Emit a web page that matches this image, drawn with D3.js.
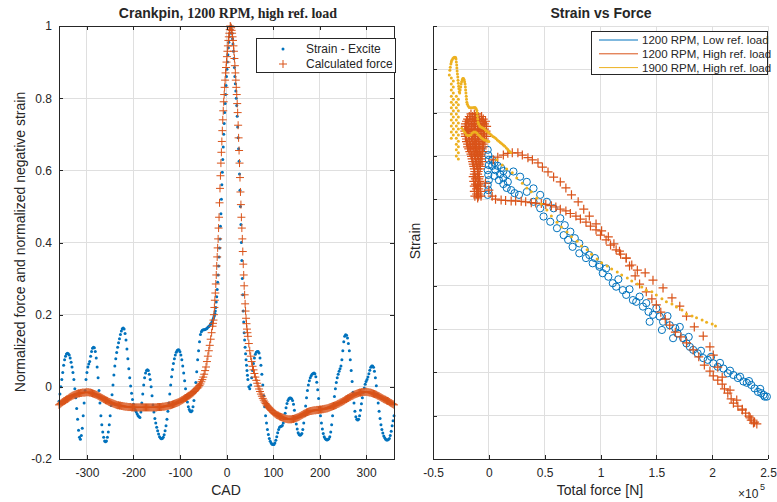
<!DOCTYPE html>
<html>
<head>
<meta charset="utf-8">
<script src="https://cdn.jsdelivr.net/npm/d3@7"></script>
<style>
  body { margin: 0; background: #fff; }
  text { font-family: "Liberation Sans", Arial, sans-serif; fill: #262626; }
</style>
</head>
<body>
<svg id="chart" width="777" height="502"></svg>
<script>
// ---------- left panel: crankpin, 1200 RPM, high ref. load ----------
// crank angle grid: 2 deg steps, 1 deg steps around the firing peak
var cad = [].concat(d3.range(-360, -30, 2), d3.range(-30, 47, 1), d3.range(48, 361, 2))

var strainExcite = [
  -0.04, -0.02, 0.00, 0.02, 0.04, 0.06, 0.075, 0.085, 0.091, 0.093,
  0.092, 0.088, 0.08, 0.068, 0.055, 0.04, 0.02, -0.005, -0.03, -0.06,
  -0.09, -0.12, -0.14, -0.145, -0.135, -0.115, -0.08, -0.045, -0.01, 0.02,
  0.04, 0.055, 0.063, 0.07, 0.085, 0.098, 0.107, 0.11, 0.108, 0.098,
  0.08, 0.055, 0.025, -0.01, -0.045, -0.08, -0.105, -0.125, -0.14, -0.15,
  -0.152, -0.15, -0.14, -0.125, -0.105, -0.08, -0.052, -0.022, 0.005, 0.033,
  0.058, 0.078, 0.095, 0.11, 0.122, 0.133, 0.145, 0.155, 0.161, 0.163,
  0.16, 0.148, 0.13, 0.105, 0.078, 0.05, 0.025, 0.002, -0.018, -0.035,
  -0.048, -0.058, -0.065, -0.07, -0.075, -0.08, -0.083, -0.085, -0.07, -0.045,
  -0.02, 0.005, 0.025, 0.038, 0.045, 0.047, 0.045, 0.035, 0.02, 0.0,
  -0.025, -0.05, -0.07, -0.088, -0.1, -0.112, -0.122, -0.131, -0.138, -0.142,
  -0.144, -0.143, -0.14, -0.133, -0.122, -0.108, -0.09, -0.068, -0.045, -0.02,
  0.005, 0.028, 0.048, 0.065, 0.078, 0.088, 0.096, 0.101, 0.103, 0.102,
  0.097, 0.088, 0.075, 0.058, 0.038, 0.017, -0.005, -0.025, -0.042, -0.055,
  -0.063, -0.068, -0.069, -0.066, -0.055, -0.038, -0.015, 0.012, 0.042, 0.075,
  0.1, 0.125, 0.145, 0.153, 0.157, 0.158, 0.158, 0.159, 0.16, 0.162,
  0.165, 0.167, 0.17, 0.174, 0.178,
  // -30 .. 46, 1 deg
  0.183, 0.186, 0.19, 0.194, 0.198, 0.203, 0.21, 0.22, 0.235, 0.25,
  0.27, 0.29, 0.31, 0.335, 0.36, 0.385, 0.41, 0.445, 0.48, 0.52,
  0.56, 0.595, 0.63, 0.665, 0.7, 0.73, 0.76, 0.785, 0.81, 0.835,
  0.86, 0.88, 0.9, 0.92, 0.94, 0.955, 0.97, 0.98, 0.99, 0.997,
  1.0, 0.99, 0.98, 0.965, 0.95, 0.93, 0.91, 0.885, 0.86, 0.84,
  0.82, 0.8, 0.78, 0.75, 0.72, 0.69, 0.66, 0.625, 0.59, 0.545,
  0.5, 0.45, 0.4, 0.35, 0.3, 0.255, 0.21, 0.18, 0.15, 0.13,
  0.11, 0.092, 0.075, 0.06, 0.045, 0.032, 0.02,
  // 48 .. 360, 2 deg
  0.0, -0.005, 0.005, 0.025, 0.045, 0.065,
  0.08, 0.09, 0.096, 0.098, 0.098, 0.094, 0.08, 0.06, 0.035, 0.005,
  -0.025, -0.055, -0.08, -0.1, -0.118, -0.132, -0.143, -0.151, -0.156, -0.159,
  -0.16, -0.16, -0.156, -0.148, -0.138, -0.127, -0.118, -0.112, -0.11, -0.109,
  -0.107, -0.1, -0.088, -0.073, -0.058, -0.046, -0.038, -0.033, -0.031, -0.031,
  -0.033, -0.038, -0.048, -0.065, -0.085, -0.103, -0.117, -0.127, -0.132, -0.134,
  -0.133, -0.129, -0.118, -0.1, -0.078, -0.053, -0.03, -0.01, 0.005, 0.017,
  0.025, 0.031, 0.035, 0.037, 0.038, 0.036, 0.028, 0.013, -0.008, -0.032,
  -0.057, -0.08, -0.1, -0.117, -0.129, -0.138, -0.143, -0.146, -0.147, -0.146,
  -0.144, -0.138, -0.125, -0.105, -0.08, -0.053, -0.027, -0.005, 0.012, 0.025,
  0.035, 0.043, 0.05, 0.058, 0.075, 0.1, 0.125, 0.14, 0.144, 0.143,
  0.135, 0.12, 0.1, 0.075, 0.045, 0.015, -0.015, -0.045, -0.068, -0.083,
  -0.09, -0.092, -0.09, -0.08, -0.065, -0.047, -0.03, -0.015, -0.003, 0.007,
  0.015, 0.02, 0.027, 0.036, 0.046, 0.054, 0.058, 0.058, 0.054, 0.043,
  0.025, 0.003, -0.02, -0.045, -0.068, -0.088, -0.105, -0.118, -0.128, -0.136,
  -0.141, -0.145, -0.147, -0.147, -0.146, -0.143, -0.135, -0.123, -0.108, -0.094,
  -0.08
]

var calcForce = [
  -0.05, -0.048, -0.046, -0.044, -0.042, -0.04, -0.039, -0.037, -0.035, -0.034,
  -0.032, -0.03, -0.028, -0.027, -0.025, -0.024, -0.023, -0.022, -0.021, -0.02,
  -0.019, -0.018, -0.018, -0.017, -0.017, -0.016, -0.016, -0.016, -0.016, -0.015,
  -0.015, -0.015, -0.015, -0.016, -0.016, -0.017, -0.018, -0.019, -0.02, -0.021,
  -0.022, -0.023, -0.025, -0.026, -0.028, -0.029, -0.031, -0.032, -0.034, -0.035,
  -0.037, -0.038, -0.039, -0.041, -0.042, -0.043, -0.044, -0.045, -0.046, -0.047,
  -0.048, -0.049, -0.05, -0.051, -0.051, -0.052, -0.052, -0.053, -0.053, -0.054,
  -0.054, -0.055, -0.055, -0.055, -0.056, -0.056, -0.056, -0.056, -0.057, -0.057,
  -0.057, -0.057, -0.057, -0.057, -0.057, -0.057, -0.057, -0.057, -0.057, -0.057,
  -0.057, -0.057, -0.057, -0.057, -0.057, -0.057, -0.057, -0.057, -0.057, -0.057,
  -0.057, -0.057, -0.057, -0.057, -0.057, -0.057, -0.056, -0.056, -0.056, -0.056,
  -0.056, -0.055, -0.055, -0.055, -0.054, -0.054, -0.053, -0.053, -0.052, -0.051,
  -0.051, -0.05, -0.049, -0.048, -0.047, -0.046, -0.045, -0.044, -0.043, -0.042,
  -0.04, -0.039, -0.037, -0.036, -0.034, -0.032, -0.031, -0.029, -0.027, -0.025,
  -0.024, -0.022, -0.02, -0.018, -0.016, -0.013, -0.011, -0.008, -0.005, -0.003,
  0.0, 0.004, 0.008, 0.014, 0.02, 0.027, 0.035, 0.045, 0.055, 0.07,
  0.085, 0.1, 0.115, 0.132, 0.15,
  // -30 .. 46, 1 deg
  0.168, 0.176, 0.185, 0.2, 0.22, 0.24, 0.26, 0.285, 0.31, 0.335,
  0.36, 0.385, 0.41, 0.44, 0.47, 0.51, 0.55, 0.585, 0.62, 0.65,
  0.68, 0.71, 0.74, 0.765, 0.79, 0.81, 0.83, 0.85, 0.87, 0.885,
  0.9, 0.915, 0.93, 0.945, 0.96, 0.97, 0.98, 0.99, 1.0, 0.998,
  0.995, 0.988, 0.98, 0.97, 0.96, 0.945, 0.93, 0.91, 0.89, 0.87,
  0.85, 0.83, 0.81, 0.785, 0.76, 0.725, 0.69, 0.655, 0.62, 0.58,
  0.54, 0.505, 0.47, 0.44, 0.41, 0.375, 0.34, 0.31, 0.28, 0.255,
  0.23, 0.21, 0.19, 0.175, 0.16, 0.15, 0.14,
  // 48 .. 360, 2 deg
  0.12, 0.1, 0.085, 0.07, 0.057, 0.047,
  0.037, 0.027, 0.018, 0.01, 0.002, -0.006, -0.013, -0.02, -0.026, -0.032,
  -0.037, -0.042, -0.046, -0.05, -0.053, -0.056, -0.059, -0.062, -0.065, -0.067,
  -0.07, -0.072, -0.074, -0.076, -0.078, -0.079, -0.08, -0.082, -0.083, -0.084,
  -0.085, -0.086, -0.087, -0.088, -0.089, -0.089, -0.09, -0.09, -0.09, -0.09,
  -0.09, -0.089, -0.089, -0.088, -0.087, -0.086, -0.085, -0.084, -0.083, -0.081,
  -0.08, -0.078, -0.077, -0.075, -0.074, -0.073, -0.071, -0.07, -0.069, -0.068,
  -0.067, -0.067, -0.066, -0.066, -0.065, -0.065, -0.065, -0.064, -0.064, -0.064,
  -0.063, -0.063, -0.063, -0.062, -0.062, -0.061, -0.061, -0.06, -0.06, -0.059,
  -0.058, -0.057, -0.056, -0.055, -0.054, -0.053, -0.052, -0.051, -0.05, -0.048,
  -0.047, -0.046, -0.044, -0.043, -0.042, -0.04, -0.039, -0.037, -0.035, -0.034,
  -0.032, -0.031, -0.029, -0.028, -0.026, -0.025, -0.024, -0.022, -0.021, -0.02,
  -0.019, -0.018, -0.017, -0.016, -0.016, -0.015, -0.015, -0.014, -0.014, -0.014,
  -0.014, -0.014, -0.015, -0.015, -0.016, -0.016, -0.017, -0.018, -0.019, -0.02,
  -0.021, -0.022, -0.024, -0.025, -0.026, -0.028, -0.029, -0.031, -0.032, -0.034,
  -0.035, -0.036, -0.038, -0.039, -0.04, -0.042, -0.044, -0.045, -0.047, -0.048,
  -0.05
]

var cadTicks = [-300, -200, -100, 0, 100, 200, 300]
var normTicks = [-0.2, 0, 0.2, 0.4, 0.6, 0.8, 1]
var leftNames = ['Strain - Excite', 'Calculated force']

// ---------- right panel: strain vs total force (force in 1e5 N) ----------
// 1200 RPM, low ref. load (circles)
var lowForce = [
  -0.01, -0.005, 0.0, 0.0, -0.01, -0.005, 0.0, -0.01, -0.005, -0.01,
  0.03, 0.05, 0.08, 0.11, 0.13, 0.16, 0.03, 0.06, 0.10, 0.13, 0.17, 0.05, 0.09, 0.13, 0.16, 0.20, 0.23, 0.27,
  0.22, 0.28, 0.34, 0.40, 0.46, 0.52, 0.58, 0.64, 0.68, 0.73, 0.77, 0.81, 0.86, 0.90, 0.95, 0.99,
  0.34, 0.40, 0.46, 0.49, 0.55, 0.61, 0.67, 0.71, 0.75, 0.81, 0.87, 0.93, 0.99,
  1.02, 1.07, 1.11, 1.14, 1.20, 1.23, 1.29, 1.32, 1.38, 1.43,
  1.47, 1.53, 1.56, 1.62, 1.67, 1.69, 1.74, 1.77, 1.80, 1.83,
  1.87, 1.92, 1.96, 2.01, 2.05, 2.10, 2.14, 2.19, 2.28, 2.35,
  2.38, 2.41, 2.44, 2.47, 2.49,
  1.44, 1.55, 1.65, 2.23, 2.31, 2.46,
  1.05, 1.16, 1.26, 1.35, 1.41, 1.50, 1.60, 1.71, 1.79, 1.90, 1.99, 2.07, 2.16, 2.25, 2.33, 2.43
]
var lowStrain = [
  7.14, 7.02, 6.91, 6.79, 6.67, 6.56, 6.44, 6.33, 6.21, 6.10,
  6.91, 6.84, 6.77, 6.72, 6.65, 6.58, 6.77, 6.67, 6.58, 6.49, 6.40, 6.54, 6.44, 6.35, 6.26, 6.21, 6.14, 6.10,
  6.64, 6.52, 6.40, 6.25, 6.10, 5.94, 5.79, 5.56, 5.40, 5.25, 5.10, 4.98, 4.83, 4.71, 4.64, 4.48,
  6.17, 5.94, 5.79, 5.60, 5.48, 5.33, 5.17, 5.06, 4.90, 4.75, 4.64, 4.52, 4.44,
  4.29, 4.21, 4.06, 3.98, 3.90, 3.79, 3.67, 3.63, 3.52, 3.40,
  3.33, 3.29, 3.17, 3.09, 3.02, 2.90, 2.79, 2.67, 2.59, 2.52,
  2.44, 2.33, 2.29, 2.21, 2.13, 2.09, 1.98, 1.94, 1.79, 1.71,
  1.63, 1.55, 1.52, 1.44, 1.44,
  3.17, 2.98, 2.79, 1.87, 1.76, 1.48,
  4.40, 4.15, 3.92, 3.75, 3.60, 3.48, 3.30, 3.05, 2.82, 2.50, 2.36, 2.22, 2.04, 1.90, 1.80, 1.62
]

// 1200 RPM, high ref. load (plus)
var highForce = [
  // dense cluster near zero force
  -0.16, -0.13, -0.11,
  -0.19, -0.16, -0.13, -0.11, -0.08, -0.05,
  -0.21, -0.18, -0.15, -0.13, -0.10, -0.07, -0.04,
  -0.20, -0.17, -0.14, -0.12, -0.09, -0.06, -0.04,
  -0.21, -0.18, -0.15, -0.13, -0.10, -0.07, -0.04,
  -0.20, -0.17, -0.14, -0.12, -0.09, -0.06, -0.04,
  -0.19, -0.16, -0.13, -0.11, -0.08, -0.05,
  -0.18, -0.15, -0.12, -0.09, -0.06,
  -0.16, -0.13, -0.10, -0.07,
  -0.15, -0.12, -0.09, -0.07,
  -0.14, -0.11, -0.08,
  -0.13, -0.10, -0.08,
  -0.13, -0.10, -0.12, -0.09, -0.12, -0.09, -0.11, -0.09, -0.11, -0.09, -0.10,
  -0.175, -0.145, -0.12, -0.095, -0.065,
  -0.20, -0.17, -0.14, -0.115, -0.085, -0.055, -0.03,
  -0.21, -0.185, -0.155, -0.125, -0.10, -0.07, -0.045, -0.02,
  -0.215, -0.19, -0.16, -0.13, -0.105, -0.08, -0.05, -0.025,
  -0.21, -0.185, -0.155, -0.125, -0.10, -0.07, -0.045, -0.02,
  -0.20, -0.175, -0.145, -0.115, -0.09, -0.06, -0.035,
  -0.19, -0.165, -0.135, -0.105, -0.08, -0.05,
  -0.17, -0.14, -0.11, -0.085, -0.055,
  -0.155, -0.125, -0.10, -0.075,
  -0.145, -0.115, -0.09, -0.06,
  -0.135, -0.105, -0.075,
  -0.125, -0.095,
  -0.14, -0.115, -0.085, -0.135, -0.105, -0.08, -0.13, -0.10, -0.075,
  -0.13, -0.10, -0.075, -0.125, -0.095, -0.07,
  // upper arc and outer branch
  0.04, 0.08, 0.13, 0.17, 0.21, 0.26, 0.30, 0.35, 0.39, 0.44, 0.48, 0.53, 0.58, 0.64, 0.69, 0.74, 0.80, 0.85,
  0.90, 0.96, 1.01, 1.07, 1.12, 1.17, 1.23, 1.28, 1.33, 1.40, 1.47, 1.56, 1.64, 1.71, 1.77, 1.84, 1.92, 1.98,
  2.01, 2.05, 2.09, 2.16, 2.22,
  // flat lower branch
  -0.03, 0.0, 0.03, 0.06, 0.11, 0.15, 0.20, 0.24, 0.29, 0.33, 0.38, 0.42, 0.47, 0.51, 0.56, 0.60, 0.64, 0.69,
  0.73, 0.78, 0.82, 0.87, 0.91, 0.96, 1.00, 1.05, 1.09, 1.14, 1.18, 1.23, 1.26, 1.31, 1.35, 1.41, 1.46, 1.50,
  1.54, 1.58, 1.62, 1.67, 1.72, 1.77, 1.83, 1.88, 1.93, 1.98, 2.01, 2.05, 2.09, 2.11, 2.14, 2.17, 2.19, 2.23,
  2.27, 2.30, 2.33, 2.35, 2.38, 2.40, 2.27, 2.34, 2.37
]
var highStrain = [
  7.97, 7.97, 7.97,
  7.85, 7.85, 7.85, 7.85, 7.85, 7.85,
  7.74, 7.74, 7.74, 7.74, 7.74, 7.74, 7.74,
  7.62, 7.62, 7.62, 7.62, 7.62, 7.62, 7.62,
  7.51, 7.51, 7.51, 7.51, 7.51, 7.51, 7.51,
  7.39, 7.39, 7.39, 7.39, 7.39, 7.39, 7.39,
  7.27, 7.27, 7.27, 7.27, 7.27, 7.27,
  7.16, 7.16, 7.16, 7.16, 7.16,
  7.04, 7.04, 7.04, 7.04,
  6.93, 6.93, 6.93, 6.93,
  6.81, 6.81, 6.81,
  6.70, 6.70, 6.70,
  6.58, 6.58, 6.47, 6.47, 6.35, 6.35, 6.24, 6.24, 6.12, 6.12, 6.03,
  7.91, 7.91, 7.91, 7.91, 7.91,
  7.80, 7.80, 7.80, 7.80, 7.80, 7.80, 7.80,
  7.68, 7.68, 7.68, 7.68, 7.68, 7.68, 7.68, 7.68,
  7.57, 7.57, 7.57, 7.57, 7.57, 7.57, 7.57, 7.57,
  7.45, 7.45, 7.45, 7.45, 7.45, 7.45, 7.45, 7.45,
  7.33, 7.33, 7.33, 7.33, 7.33, 7.33, 7.33,
  7.21, 7.21, 7.21, 7.21, 7.21, 7.21,
  7.10, 7.10, 7.10, 7.10, 7.10,
  6.99, 6.99, 6.99, 6.99,
  6.87, 6.87, 6.87, 6.87,
  6.76, 6.76, 6.76,
  6.64, 6.64,
  6.52, 6.52, 6.52, 6.41, 6.41, 6.41, 6.30, 6.30, 6.30,
  6.18, 6.18, 6.18, 6.07, 6.07, 6.07,
  6.91, 6.97, 7.02, 7.06, 7.07, 7.07, 7.02, 6.96, 6.91, 6.84, 6.74, 6.63, 6.51, 6.40, 6.26, 6.10, 5.94, 5.77,
  5.61, 5.43, 5.27, 5.13, 4.97, 4.80, 4.64, 4.48, 4.36, 4.30, 4.13, 3.95, 3.72, 3.53, 3.30, 3.05, 2.84, 2.59,
  2.40, 2.12, 1.89, 1.59, 1.36,
  6.37, 6.21, 6.07, 6.00, 5.98, 5.97, 5.96, 5.96, 5.95, 5.94, 5.92, 5.91, 5.90, 5.88, 5.85, 5.82, 5.77, 5.73,
  5.67, 5.61, 5.54, 5.47, 5.38, 5.29, 5.17, 5.06, 4.94, 4.83, 4.73, 4.64, 4.46, 4.23, 4.04, 3.86, 3.70, 3.56,
  3.39, 3.23, 3.09, 2.93, 2.82, 2.68, 2.52, 2.36, 2.17, 2.03, 1.92, 1.82, 1.73, 1.62, 1.52, 1.39, 1.29, 1.22,
  1.15, 1.06, 0.99, 0.90, 0.85, 0.81, 1.13, 0.95, 0.83
]

// 1900 RPM, high ref. load (dots)
var fastForce = [
  // loops at low force
  -0.354, -0.349, -0.345, -0.340, -0.336, -0.331, -0.322, -0.313, -0.304, -0.298,
  -0.294, -0.291, -0.288, -0.286, -0.284, -0.281, -0.278, -0.276, -0.273, -0.270,
  -0.268, -0.265, -0.261, -0.257, -0.252, -0.248, -0.244, -0.238, -0.233, -0.227,
  -0.221, -0.217, -0.213, -0.210, -0.208, -0.205, -0.202, -0.200, -0.197, -0.192,
  -0.185, -0.175, -0.161, -0.148, -0.134, -0.123, -0.114, -0.107, -0.105, -0.103,
  -0.100, -0.097, -0.091, -0.082, -0.072, -0.058, -0.045, -0.031, -0.018, -0.004,
  0.009, 0.022, 0.036, 0.049, 0.063, 0.076, 0.090, 0.103, 0.116, 0.130,
  0.143, 0.157, 0.170, 0.184, 0.197,
  // two dense columns
  -0.336, -0.318, -0.336, -0.318, -0.336, -0.318, -0.336, -0.318, -0.336, -0.318, -0.336,
  -0.318, -0.336, -0.318, -0.336, -0.318, -0.336, -0.318, -0.336, -0.318, -0.336,
  -0.291, -0.273, -0.291, -0.273, -0.291, -0.273, -0.291, -0.273, -0.291, -0.273, -0.291,
  -0.273, -0.291, -0.273, -0.291, -0.273, -0.291, -0.273, -0.291, -0.273, -0.291, -0.273,
  // squiggle
  -0.242, -0.228, -0.215, -0.201, -0.188, -0.175, -0.161, -0.148, -0.134, -0.121,
  -0.107, -0.094, -0.081, -0.067, -0.054, -0.040, -0.027, -0.013, 0.0,
  // loading branch
  0.07, 0.12, 0.16, 0.21, 0.25, 0.30, 0.34, 0.38, 0.43, 0.47, 0.52,
  0.56, 0.61, 0.65, 0.70, 0.74, 0.79, 0.83, 0.88, 0.92, 0.97,
  1.01, 1.06, 1.10, 1.15, 1.19, 1.24, 1.28, 1.33, 1.37, 1.41,
  1.46, 1.50, 1.55, 1.59, 1.64, 1.68, 1.73, 1.77, 1.82, 1.86,
  1.91, 1.95, 2.00, 2.03
]
var fastStrain = [
  8.87, 8.98, 9.05, 9.12, 9.17, 9.21, 9.25, 9.27, 9.28, 9.27,
  9.24, 9.17, 9.10, 9.03, 8.96, 8.89, 8.82, 8.75, 8.68, 8.61,
  8.55, 8.48, 8.45, 8.52, 8.59, 8.66, 8.71, 8.76, 8.79, 8.79,
  8.76, 8.71, 8.66, 8.59, 8.52, 8.45, 8.38, 8.31, 8.24, 8.19,
  8.15, 8.12, 8.11, 8.11, 8.12, 8.12, 8.09, 8.05, 7.99, 7.92,
  7.85, 7.78, 7.73, 7.69, 7.67, 7.65, 7.63, 7.60, 7.57, 7.54,
  7.51, 7.48, 7.45, 7.43, 7.40, 7.37, 7.34, 7.31, 7.28, 7.25,
  7.22, 7.18, 7.15, 7.11, 7.08,
  8.80, 8.73, 8.66, 8.59, 8.52, 8.45, 8.38, 8.31, 8.24, 8.18, 8.11,
  8.04, 7.97, 7.90, 7.83, 7.76, 7.69, 7.62, 7.55, 7.48, 7.41,
  8.38, 8.31, 8.24, 8.18, 8.11, 8.04, 7.97, 7.90, 7.83, 7.76, 7.69,
  7.62, 7.55, 7.48, 7.41, 7.34, 7.27, 7.21, 7.14, 7.07, 7.00, 6.93,
  7.64, 7.58, 7.54, 7.49, 7.47, 7.47, 7.49, 7.53, 7.55, 7.55,
  7.53, 7.49, 7.46, 7.42, 7.39, 7.37, 7.36, 7.34, 7.33,
  6.91, 6.79, 6.70, 6.61, 6.49, 6.37, 6.26, 6.17, 6.03, 5.89, 5.75,
  5.61, 5.47, 5.36, 5.24, 5.13, 5.03, 4.92, 4.83, 4.73, 4.62,
  4.53, 4.46, 4.39, 4.32, 4.25, 4.18, 4.11, 4.04, 3.97, 3.90,
  3.86, 3.79, 3.70, 3.63, 3.58, 3.51, 3.44, 3.35, 3.30, 3.26,
  3.21, 3.16, 3.12, 3.07
]

var forceTicks = [-0.5, 0, 0.5, 1, 1.5, 2, 2.5]
var strainTicks = d3.range(0, 11)
var rightNames = ['1200 RPM, Low ref. load', '1200 RPM, High ref. load', '1900 RPM, High ref. load']

// ---------- drawing ----------
var ink = '#262626', gridInk = '#dfdfdf'
var blue = '#0072BD', orange = '#D95319', yellow = '#EDB120'
var svg = d3.select('#chart')

function plusPath(s) { return 'M' + (-s) + ',0H' + s + 'M0,' + (-s) + 'V' + s }

function grid(g, x, y, xt, yt) {
  var gg = g.append('g').attr('shape-rendering', 'crispEdges').attr('stroke', gridInk)
  gg.selectAll('.gx').data(xt).enter().append('line')
    .attr('x1', d => x(d)).attr('x2', d => x(d))
    .attr('y1', y.range()[0]).attr('y2', y.range()[1])
  gg.selectAll('.gy').data(yt).enter().append('line')
    .attr('x1', x.range()[0]).attr('x2', x.range()[1])
    .attr('y1', d => y(d)).attr('y2', d => y(d))
}

function styleAxis(sel) {
  sel.attr('font-size', 12).attr('font-family', null)
  sel.select('.domain').remove()
  sel.selectAll('line').attr('stroke', ink).attr('shape-rendering', 'crispEdges')
  sel.selectAll('text').attr('fill', ink)
}

// ---- left panel ----
var xL = d3.scaleLinear().domain([-360, 360]).range([59, 394])
var yL = d3.scaleLinear().domain([-0.2, 1]).range([459, 26])
var gL = svg.append('g')
grid(gL, xL, yL, cadTicks, normTicks)

gL.append('g').selectAll('circle').data(cad).enter().append('circle')
  .attr('cx', d => xL(d)).attr('cy', (d, i) => yL(strainExcite[i]))
  .attr('r', 1.5).attr('fill', blue)
gL.append('g').selectAll('path').data(cad).enter().append('path')
  .attr('transform', (d, i) => 'translate(' + xL(d) + ',' + yL(calcForce[i]) + ')')
  .attr('d', plusPath(4)).attr('stroke', orange).attr('stroke-width', 1).attr('fill', 'none')

gL.append('rect').attr('x', 59).attr('y', 26).attr('width', 335).attr('height', 433)
  .attr('fill', 'none').attr('stroke', ink).attr('shape-rendering', 'crispEdges')
gL.append('g').attr('transform', 'translate(0,459)')
  .call(d3.axisBottom(xL).tickValues(cadTicks).tickSize(-4).tickPadding(9).tickFormat(d => String(d)))
  .call(styleAxis)
gL.append('g').attr('transform', 'translate(0,26)')
  .call(d3.axisTop(xL).tickValues(cadTicks).tickSize(-4).tickFormat(''))
  .call(styleAxis)
gL.append('g').attr('transform', 'translate(59,0)')
  .call(d3.axisLeft(yL).tickValues(normTicks).tickSize(-4).tickPadding(7).tickFormat(d => String(d)))
  .call(styleAxis)
gL.append('g').attr('transform', 'translate(394,0)')
  .call(d3.axisRight(yL).tickValues(normTicks).tickSize(-4).tickFormat(''))
  .call(styleAxis)

var tL = gL.append('text').attr('x', 228).attr('y', 18).attr('text-anchor', 'middle')
  .attr('font-size', 14).attr('font-weight', 'bold')
tL.append('tspan').text('Crankpin, ')
tL.append('tspan').attr('font-family', '"Liberation Serif", serif').text('1200 RPM, high ref. load')

gL.append('text').attr('x', 226).attr('y', 495).attr('text-anchor', 'middle')
  .attr('font-size', 14).text('CAD')
gL.append('text').attr('transform', 'translate(25,242) rotate(-90)').attr('text-anchor', 'middle')
  .attr('font-size', 14).text('Normalized force and normalized negative strain')

var lgL = gL.append('g')
lgL.append('rect').attr('x', 256).attr('y', 38).attr('width', 139).attr('height', 34)
  .attr('fill', '#fff').attr('stroke', ink).attr('shape-rendering', 'crispEdges')
lgL.append('circle').attr('cx', 283).attr('cy', 49).attr('r', 1.5).attr('fill', blue)
lgL.append('path').attr('transform', 'translate(283,64)').attr('d', plusPath(4))
  .attr('stroke', orange).attr('fill', 'none')
lgL.selectAll('.lt').data(leftNames).enter().append('text')
  .attr('x', 306).attr('y', (d, i) => 53 + i * 15).attr('font-size', 12).text(d => d)

// ---- right panel ----
var xR = d3.scaleLinear().domain([-0.5, 2.5]).range([433, 768])
var yR = d3.scaleLinear().domain([0, 10]).range([459, 26])
var gR = svg.append('g')
grid(gR, xR, yR, forceTicks, strainTicks)

gR.append('g').selectAll('circle').data(lowForce).enter().append('circle')
  .attr('cx', d => xR(d)).attr('cy', (d, i) => yR(lowStrain[i]))
  .attr('r', 3.6).attr('fill', 'none').attr('stroke', blue).attr('stroke-width', 1)
gR.append('g').selectAll('path').data(highForce).enter().append('path')
  .attr('transform', (d, i) => 'translate(' + xR(d) + ',' + yR(highStrain[i]) + ')')
  .attr('d', plusPath(4.5)).attr('stroke', orange).attr('stroke-width', 1.2).attr('fill', 'none')
gR.append('g').selectAll('circle').data(fastForce).enter().append('circle')
  .attr('cx', d => xR(d)).attr('cy', (d, i) => yR(fastStrain[i]))
  .attr('r', 1.5).attr('fill', yellow)

gR.append('g').attr('transform', 'translate(0,459)')
  .call(d3.axisBottom(xR).tickValues(forceTicks).tickSize(-4).tickPadding(9).tickFormat(d => String(d)))
  .call(styleAxis)
gR.append('g').attr('transform', 'translate(433,0)')
  .call(d3.axisLeft(yR).tickValues(strainTicks).tickSize(-4).tickFormat(''))
  .call(styleAxis)
gR.append('line').attr('x1', 433).attr('x2', 768).attr('y1', 459).attr('y2', 459)
  .attr('stroke', ink).attr('shape-rendering', 'crispEdges')
gR.append('line').attr('x1', 433).attr('x2', 433).attr('y1', 26).attr('y2', 459)
  .attr('stroke', ink).attr('shape-rendering', 'crispEdges')

gR.append('text').attr('x', 601).attr('y', 18).attr('text-anchor', 'middle')
  .attr('font-size', 14).attr('font-weight', 'bold').text('Strain vs Force')
gR.append('text').attr('x', 600).attr('y', 495).attr('text-anchor', 'middle')
  .attr('font-size', 14).text('Total force [N]')
gR.append('text').attr('transform', 'translate(420,241) rotate(-90)').attr('text-anchor', 'middle')
  .attr('font-size', 14).text('Strain')
gR.append('text').attr('x', 738).attr('y', 498).attr('font-size', 12).text('\u00d710')
gR.append('text').attr('x', 760).attr('y', 490).attr('font-size', 9).text('5')

var lgR = gR.append('g')
lgR.append('rect').attr('x', 591).attr('y', 31).attr('width', 176).attr('height', 43)
  .attr('fill', '#fff').attr('stroke', ink).attr('shape-rendering', 'crispEdges')
var lgItems = lgR.selectAll('.li').data(rightNames).enter().append('g')
  .attr('transform', (d, i) => 'translate(0,' + (40 + i * 13.8) + ')')
lgItems.append('line').attr('x1', 599).attr('x2', 638).attr('y1', 0).attr('y2', 0)
  .attr('stroke', (d, i) => [blue, orange, yellow][i]).attr('stroke-width', 1)
lgItems.append('text').attr('x', 642).attr('y', 4).attr('font-size', 11.5)
  .attr('font-family', '"Liberation Serif", serif').text(d => d)
</script>
</body>
</html>
